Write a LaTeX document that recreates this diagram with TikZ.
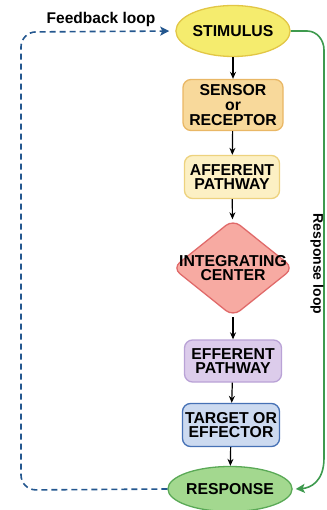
\documentclass[tikz,border=0pt]{standalone}
\usepackage{fontspec}
\setmainfont{Liberation Sans}
\usetikzlibrary{shapes.geometric,arrows.meta}
\definecolor{stimF}{HTML}{F5EC6E}\definecolor{stimD}{HTML}{E2C646}
\definecolor{sensF}{HTML}{F8D99B}\definecolor{sensD}{HTML}{E9B765}
\definecolor{affF}{HTML}{FCF0C4}\definecolor{affD}{HTML}{EDD27E}
\definecolor{icF}{HTML}{F7AAA2}\definecolor{icD}{HTML}{E06A6A}
\definecolor{effF}{HTML}{DCCCEB}\definecolor{effD}{HTML}{B9A2D6}
\definecolor{tgtF}{HTML}{CCDAF0}\definecolor{tgtD}{HTML}{4671B5}
\definecolor{respF}{HTML}{A3D88F}\definecolor{respD}{HTML}{5AA956}
\definecolor{loopG}{HTML}{3E9A4E}\definecolor{loopB}{HTML}{24578F}
\begin{document}
\begin{tikzpicture}[x=1pt,y=-1pt,
  lbl/.style={font=\fontsize{15.8}{14.8}\selectfont\bfseries, align=center, inner sep=0pt},
  ell/.style={ellipse, lbl, line width=1.3pt},
  box/.style={rectangle, rounded corners=8pt, lbl, line width=1.3pt},
  flow/.style={line width=1.2pt, -{Stealth[length=7pt,width=6pt]}}
]
\useasboundingbox (0,0) rectangle (326,510);
\node[ell, fill=stimF, draw=stimD, minimum width=97pt, minimum height=51pt] (stim) at (233,31) {STIMULUS};
\node[box, fill=sensF, draw=sensD, minimum width=100pt, minimum height=51pt] (sens) at (233,105) {SENSOR\\or\\RECEPTOR};
\node[box, fill=affF, draw=affD, minimum width=95pt, minimum height=43pt] (aff) at (232,177) {AFFERENT\\PATHWAY};
\node[diamond, rounded corners=9pt, fill=icF, draw=icD, line width=1.3pt, inner sep=0pt, minimum width=121pt, minimum height=97pt] (ic) at (233,268) {};
\node[lbl] (ictext) at (233,268) {INTEGRATING\\CENTER};
\node[box, fill=effF, draw=effD, minimum width=97pt, minimum height=42pt] (eff) at (233,361) {EFFERENT\\PATHWAY};
\node[box, fill=tgtF, draw=tgtD, minimum width=97pt, minimum height=43pt] (tgt) at (231,425) {TARGET OR\\EFFECTOR};
\node[ell, fill=respF, draw=respD, minimum width=106pt, minimum height=45pt] (resp) at (230,489) {RESPONSE};

\draw[flow] (stim) -- (sens);
\draw[flow] (sens) -- (aff);
\draw[flow] (aff) -- (ic);
\draw[flow] (ic) -- (eff);
\draw[flow] (eff) -- (tgt);
\draw[flow] (tgt) -- (resp);

% response loop (green)
\coordinate (g1) at (307,31);
\coordinate (g2) at (324,50);
\coordinate (g3) at (324,458);
\draw[loopG, line width=1.6pt, -{Stealth[length=9pt,width=9pt,inset=2pt]}]
  (stim.east) -- (g1) to[out=0,in=90] (g2) -- (g3) .. controls (324,482) and (310,488) .. ([xshift=3pt]resp.east);
\node[font=\fontsize{14}{14}\selectfont\bfseries, rotate=-90, inner sep=0pt] (rl) at (317,264) {Response loop};

% feedback loop (blue dashed)
\coordinate (b1) at (21,490);
\coordinate (b2) at (21,32);
\draw[loopB, line width=1.6pt, dash pattern=on 6pt off 4pt, rounded corners=15pt, -{Stealth[length=9pt,width=9pt,inset=2pt]}, shorten >=6pt]
  (resp.west) -- (b1) -- (b2) -- (stim.west);
\node[font=\fontsize{15.5}{15.5}\selectfont\bfseries, inner sep=0pt] (fl) at (101,19) {Feedback loop};
\end{tikzpicture}
\end{document}
